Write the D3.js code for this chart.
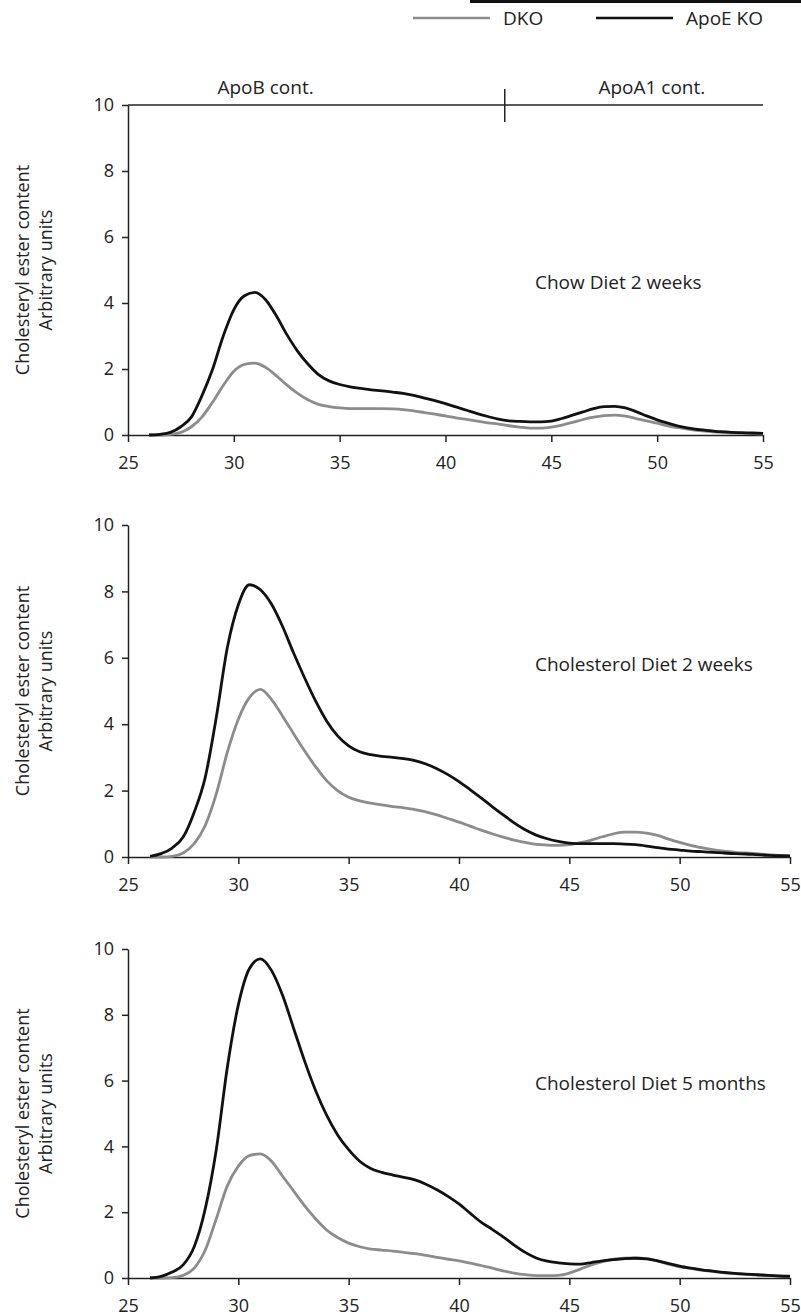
<!DOCTYPE html>
<html>
<head>
<meta charset="utf-8">
<script src="https://cdn.jsdelivr.net/npm/d3@7"></script>
<style>
  body { margin: 0; background: #fff; }
  svg { display: block; font-family: "Open Sans", sans-serif; }
  .axis path, .axis line { stroke: #222; stroke-width: 1.5; }
  .axis text { font-size: 18px; fill: #222; font-family: "Open Sans", sans-serif; }
</style>
</head>
<body>
<div id="chart"></div>
<script>
// Fraction numbers (x) shared by every profile
const fractions = [
  26, 26.5, 27, 27.5, 28, 28.5, 29, 29.5, 30, 30.5,
  31, 31.5, 32, 32.5, 33, 33.5, 34, 34.5, 35, 35.5,
  36, 36.5, 37, 37.5, 38, 38.5, 39, 39.5, 40, 40.5,
  41, 41.5, 42, 42.5, 43, 43.5, 44, 44.5, 45, 45.5,
  46, 46.5, 47, 47.5, 48, 48.5, 49, 49.5, 50, 50.5,
  51, 51.5, 52, 52.5, 53, 53.5, 54, 54.5, 55
];

// Chow diet 2 weeks
const chowApoeKo = [
  0, 0.02, 0.08, 0.25, 0.55, 1.2, 2.0, 3.0, 3.8, 4.22,
  4.32, 4.1, 3.62, 3.05, 2.55, 2.15, 1.83, 1.64, 1.53, 1.46,
  1.41, 1.37, 1.34, 1.3, 1.26, 1.2, 1.12, 1.04, 0.95, 0.85,
  0.75, 0.65, 0.56, 0.48, 0.43, 0.41, 0.4, 0.4, 0.42, 0.5,
  0.6, 0.7, 0.8, 0.86, 0.87, 0.82, 0.71, 0.58, 0.46, 0.36,
  0.27, 0.21, 0.16, 0.13, 0.1, 0.08, 0.07, 0.06, 0.05
];
const chowDko = [
  0, 0, 0.02, 0.08, 0.25, 0.55, 1.0, 1.5, 1.93, 2.14,
  2.18, 2.05, 1.8, 1.52, 1.27, 1.07, 0.93, 0.86, 0.82, 0.8,
  0.8, 0.8, 0.8, 0.79, 0.77, 0.73, 0.68, 0.63, 0.58, 0.52,
  0.47, 0.42, 0.37, 0.33, 0.28, 0.24, 0.21, 0.21, 0.24, 0.3,
  0.38, 0.47, 0.54, 0.59, 0.6, 0.57, 0.5, 0.43, 0.36, 0.28,
  0.22, 0.17, 0.13, 0.1, 0.08, 0.06, 0.05, 0.04, 0.03
];

// Cholesterol diet 2 weeks
const chol2wApoeKo = [
  0.02, 0.1, 0.27, 0.6, 1.35, 2.4, 4.2, 6.3, 7.6, 8.2,
  8.05, 7.62, 6.95, 6.15, 5.4, 4.7, 4.1, 3.65, 3.35, 3.17,
  3.08, 3.03, 3.0, 2.96, 2.9, 2.8, 2.66, 2.48, 2.27, 2.03,
  1.78, 1.52, 1.27, 1.03, 0.82, 0.66, 0.55, 0.47, 0.42, 0.4,
  0.4, 0.4, 0.4, 0.39, 0.37, 0.33, 0.28, 0.24, 0.21, 0.18,
  0.16, 0.14, 0.12, 0.1, 0.09, 0.07, 0.05, 0.04, 0.03
];
const chol2wDko = [
  0, 0, 0.02, 0.12, 0.4, 0.95, 1.9, 3.15, 4.15, 4.8,
  5.05, 4.75, 4.25, 3.72, 3.2, 2.72, 2.3, 2.0, 1.8, 1.69,
  1.62, 1.57, 1.52, 1.48, 1.43, 1.36, 1.27, 1.16, 1.05, 0.93,
  0.81, 0.7, 0.6, 0.51, 0.44, 0.38, 0.36, 0.35, 0.37, 0.43,
  0.51, 0.61, 0.7, 0.75, 0.75, 0.72, 0.65, 0.54, 0.44, 0.35,
  0.28, 0.22, 0.18, 0.14, 0.12, 0.1, 0.07, 0.05, 0.03
];

// Cholesterol diet 5 months
const chol5mApoeKo = [
  0, 0.05, 0.18, 0.4, 0.95, 2.1, 3.9, 6.4, 8.3, 9.4,
  9.7, 9.35, 8.6, 7.6, 6.6, 5.7, 4.95, 4.35, 3.9, 3.55,
  3.33, 3.21, 3.13, 3.06, 2.98, 2.85, 2.68, 2.48, 2.25, 1.97,
  1.7, 1.48, 1.25, 1.0, 0.78, 0.61, 0.51, 0.46, 0.43, 0.42,
  0.47, 0.52, 0.56, 0.59, 0.6, 0.58, 0.52, 0.44, 0.36, 0.3,
  0.25, 0.21, 0.17, 0.14, 0.12, 0.1, 0.08, 0.06, 0.05
];
const chol5mDko = [
  0, 0, 0.01, 0.08, 0.3, 0.85, 1.8, 2.8, 3.4, 3.72,
  3.77, 3.55, 3.1, 2.65, 2.2, 1.8, 1.46, 1.23, 1.06, 0.95,
  0.88, 0.85, 0.82, 0.78, 0.74, 0.69, 0.63, 0.57, 0.52, 0.45,
  0.38, 0.3, 0.22, 0.15, 0.1, 0.07, 0.07, 0.08, 0.15, 0.27,
  0.4, 0.5, 0.57, 0.6, 0.61, 0.59, 0.52, 0.42, 0.34, 0.29,
  0.24, 0.2, 0.16, 0.13, 0.11, 0.09, 0.08, 0.07, 0.06
];

const xTickValues = [25, 30, 35, 40, 45, 50, 55];
const yTickValues = [0, 2, 4, 6, 8, 10];
const seriesNames = ["DKO", "ApoE KO"];
const seriesColours = ["#8c8c8c", "#111111"];
const panelTitles = ["Chow Diet 2 weeks", "Cholesterol Diet 2 weeks", "Cholesterol Diet 5 months"];
const regionLabels = ["ApoB cont.", "ApoA1 cont."];
const regionLabelX = [31.5, 49.75]; // fraction where each region label is centred
const regionSplit = 42.8; // fraction where ApoB region ends

const svg = d3.select("#chart")
  .append("svg")
  .attr("width", 801)
  .attr("height", 1316);

class ProfilePanel {
  constructor(_config, _data) {
    this.config = {
      parent: _config.parent,
      top: _config.top,
      bottom: _config.bottom,
      left: _config.left,
      right: _config.right,
      title: _config.title,
      titleY: _config.titleY,
      showRegions: _config.showRegions || false,
    };
    this.data = _data;
    this.initVis();
  }

  initVis() {
    let vis = this;

    vis.xScale = d3.scaleLinear().domain([25, 55]).range([vis.config.left, vis.config.right]);
    vis.yScale = d3.scaleLinear().domain([0, 10]).range([vis.config.bottom, vis.config.top]);

    vis.xAxis = d3.axisBottom(vis.xScale)
      .tickValues(xTickValues)
      .tickSize(7)
      .tickSizeOuter(0)
      .tickPadding(14)
      .tickFormat(d3.format("d"));

    vis.yAxis = d3.axisLeft(vis.yScale)
      .tickValues(yTickValues)
      .tickSize(6)
      .tickSizeOuter(0)
      .tickPadding(8)
      .tickFormat(d3.format("d"));

    vis.g = vis.config.parent.append("g");

    vis.line = d3.line()
      .x(d => vis.xScale(d.x))
      .y(d => vis.yScale(d.y))
      .curve(d3.curveMonotoneX);

    vis.renderVis();
  }

  renderVis() {
    let vis = this;

    vis.g.append("g")
      .attr("class", "axis x-axis")
      .attr("transform", `translate(0,${vis.config.bottom})`)
      .call(vis.xAxis);

    vis.g.append("g")
      .attr("class", "axis y-axis")
      .attr("transform", `translate(${vis.config.left},0)`)
      .call(vis.yAxis);

    // two-line rotated y label
    const midY = (vis.config.top + vis.config.bottom) / 2;
    const yLabel = vis.g.append("text")
      .attr("transform", `translate(0,${midY}) rotate(-90)`)
      .attr("text-anchor", "middle")
      .style("font-size", "18px")
      .attr("fill", "#222");
    yLabel.append("tspan").attr("x", 0).attr("y", 29).text("Cholesteryl ester content");
    yLabel.append("tspan").attr("x", 0).attr("y", 52).text("Arbitrary units");

    // profiles: DKO first, ApoE KO on top
    vis.data.forEach((series, i) => {
      vis.g.append("path")
        .datum(fractions.map((x, j) => ({ x: x, y: series[j] })))
        .attr("fill", "none")
        .attr("stroke", seriesColours[i])
        .attr("stroke-width", 2.8)
        .attr("stroke-linejoin", "round")
        .attr("d", vis.line);
    });

    vis.g.append("text")
      .attr("x", 535)
      .attr("y", vis.config.titleY)
      .style("font-size", "19px")
      .attr("fill", "#222")
      .text(vis.config.title);

    if (vis.config.showRegions) {
      const yTop = vis.yScale(10);
      vis.g.append("line")
        .attr("x1", vis.xScale(25)).attr("x2", vis.xScale(55))
        .attr("y1", yTop).attr("y2", yTop)
        .attr("stroke", "#222").attr("stroke-width", 1.5);
      vis.g.append("line")
        .attr("x1", vis.xScale(regionSplit)).attr("x2", vis.xScale(regionSplit))
        .attr("y1", yTop - 16).attr("y2", yTop + 17)
        .attr("stroke", "#222").attr("stroke-width", 1.5);
      regionLabels.forEach((label, i) => {
        vis.g.append("text")
          .attr("x", vis.xScale(regionLabelX[i])).attr("y", yTop - 11)
          .attr("text-anchor", "middle")
          .style("font-size", "19px").attr("fill", "#222")
          .text(label);
      });
    }
  }
}

new ProfilePanel({ parent: svg, top: 105, bottom: 435, left: 128, right: 763,
  title: panelTitles[0], titleY: 289, showRegions: true }, [chowDko, chowApoeKo]);
new ProfilePanel({ parent: svg, top: 525, bottom: 857, left: 128, right: 790,
  title: panelTitles[1], titleY: 671 }, [chol2wDko, chol2wApoeKo]);
new ProfilePanel({ parent: svg, top: 949, bottom: 1278, left: 128, right: 790,
  title: panelTitles[2], titleY: 1090 }, [chol5mDko, chol5mApoeKo]);

// legend
const legend = svg.append("g");
legend.append("rect")
  .attr("x", 470).attr("y", 0)
  .attr("width", 331).attr("height", 3)
  .attr("fill", "#111");
const legendX = [413, 596];
seriesNames.forEach((name, i) => {
  legend.append("line")
    .attr("x1", legendX[i]).attr("x2", legendX[i] + 77)
    .attr("y1", 18).attr("y2", 18)
    .attr("stroke", seriesColours[i])
    .attr("stroke-width", 2.5);
  legend.append("text")
    .attr("x", legendX[i] + 90).attr("y", 25)
    .style("font-size", "19px").attr("fill", "#222")
    .text(name);
});
</script>
</body>
</html>
